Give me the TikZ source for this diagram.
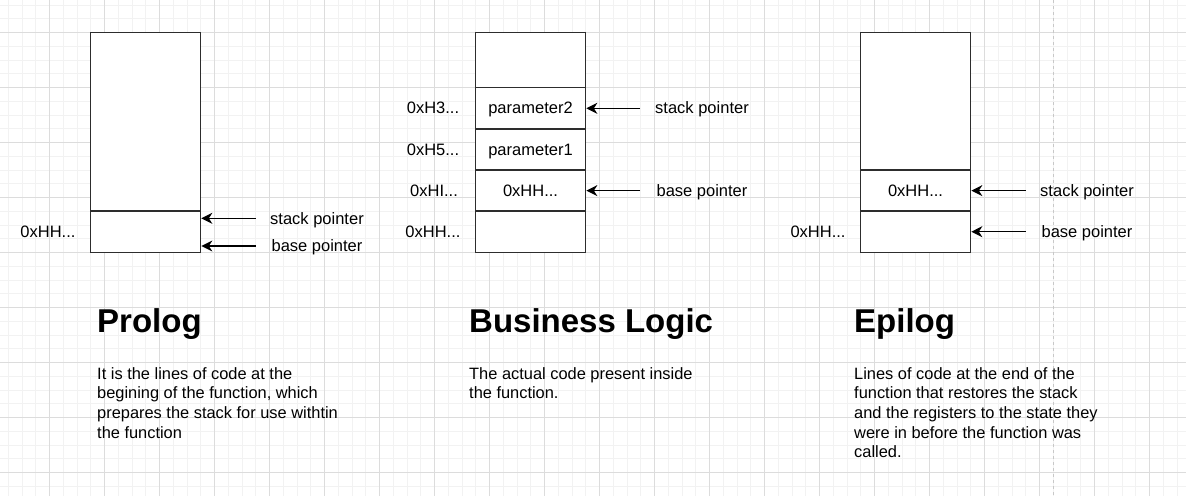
\documentclass[tikz,border=0pt]{standalone}
\usepackage{fontspec}
\setmainfont{Liberation Sans}
\usetikzlibrary{arrows.meta}
\definecolor{gridmajor}{RGB}{220,220,220}
\definecolor{gridminor}{RGB}{242,242,242}
\definecolor{boxline}{RGB}{45,45,45}
\definecolor{dashline}{RGB}{200,200,200}
\begin{document}
\begin{tikzpicture}[x=1pt,y=-1pt,
  minorgrid/.style={draw=gridminor,line width=1pt},
  majorgrid/.style={draw=gridmajor,line width=1pt},
  cell/.style={draw=boxline,line width=1.7pt,fill=white,minimum width=110pt,inner sep=0pt,
    text height=11.6pt,text depth=0pt,font=\fontsize{16.5}{19}\selectfont},
  lbl/.style={font=\fontsize{16.5}{19}\selectfont,inner sep=0pt,anchor=base},
  ptr/.style={-{Stealth[length=11pt,width=11pt,inset=3.5pt]},line width=1.5pt,draw=black},
  heading/.style={font=\fontsize{33}{38}\selectfont\bfseries,anchor=base west,inner sep=0pt},
  body/.style={font=\fontsize{16.4}{19.6}\selectfont,anchor=north west,align=left,inner sep=0pt},
]
\useasboundingbox (0,0) rectangle (1186,496);
\fill[white] (0,0) rectangle (1186,496);
% grid
\foreach \i in {0,...,86}{\draw[minorgrid] ({-5.5+\i*13.75},0) -- ({-5.5+\i*13.75},496);}
\foreach \j in {0,...,36}{\draw[minorgrid] (0,{-8.75+\j*13.75}) -- (1186,{-8.75+\j*13.75});}
\foreach \i in {0,...,21}{\draw[majorgrid] ({-5.5+\i*55},0) -- ({-5.5+\i*55},496);}
\foreach \j in {0,...,9}{\draw[majorgrid] (0,{-22.5+\j*55}) -- (1186,{-22.5+\j*55});}
\draw[dashline,line width=1.5pt,dash pattern=on 3pt off 3pt] (1053.3,0) -- (1053.3,496);

% Prolog stack
\node[cell,minimum height=178.75pt] (p1) at (145.5,121.875) {};
\node[cell,minimum height=41.25pt] (p2) at (145.5,231.875) {};
\node[lbl] (pa) at (48,237.6) {0xHH...};
\coordinate (pst) at (255.7,218.3);
\coordinate (pbt) at (255.7,246);
\draw[ptr] (pst) -- (pst -| p2.east);
\draw[ptr] (pbt) -- (pbt -| p2.east);
\node[lbl] (psl) at (317,224) {stack pointer};
\node[lbl] (pbl) at (317,251.7) {base pointer};

% Business logic stack
\node[cell,minimum height=55pt] (b1) at (530.5,60) {};
\node[cell,minimum height=41.25pt] (b2) at (530.5,108.125) {parameter2};
\node[cell,minimum height=41.25pt] (b3) at (530.5,149.375) {parameter1};
\node[cell,minimum height=41.25pt] (b4) at (530.5,190.625) {0xHH...};
\node[cell,minimum height=41.25pt] (b5) at (530.5,231.875) {};
\node[lbl] (ba2) at (433,113.8) {0xH3...};
\node[lbl] (ba3) at (433,155.1) {0xH5...};
\node[lbl] (ba4) at (434,196.3) {0xHI...};
\node[lbl] (ba5) at (433,237.6) {0xHH...};
\coordinate (bst) at (640,108.3);
\coordinate (bbt) at (640,190.6);
\draw[ptr] (bst) -- (bst -| b2.east);
\draw[ptr] (bbt) -- (bbt -| b4.east);
\node[lbl] (bsl) at (702,113.8) {stack pointer};
\node[lbl] (bbl) at (702,196.3) {base pointer};

% Epilog stack
\node[cell,minimum height=137.5pt] (e1) at (915.5,101.25) {};
\node[cell,minimum height=41.25pt] (e2) at (915.5,190.625) {0xHH...};
\node[cell,minimum height=41.25pt] (e3) at (915.5,231.875) {};
\node[lbl] (ea) at (818,237.6) {0xHH...};
\coordinate (est) at (1025.7,190.6);
\coordinate (ebt) at (1025.7,231.7);
\draw[ptr] (est) -- (est -| e2.east);
\draw[ptr] (ebt) -- (ebt -| e3.east);
\node[lbl] (esl) at (1087,196.3) {stack pointer};
\node[lbl] (ebl) at (1087,237.4) {base pointer};

% Headings and descriptions
\node[heading] (ph) at (97,332) {Prolog};
\node[heading] (bh) at (469,332) {Business Logic};
\node[heading] (eh) at (854,332) {Epilog};
\node[body] (pt) at (97,367.2) {It is the lines of code at the\\begining of the function, which\\prepares the stack for use withtin\\the function};
\node[body] (bt) at (469,367.2) {The actual code present inside\\the function.};
\node[body] (et) at (854,367.2) {Lines of code at the end of the\\function that restores the stack\\and the registers to the state they\\were in before the function was\\called.};
\end{tikzpicture}
\end{document}
